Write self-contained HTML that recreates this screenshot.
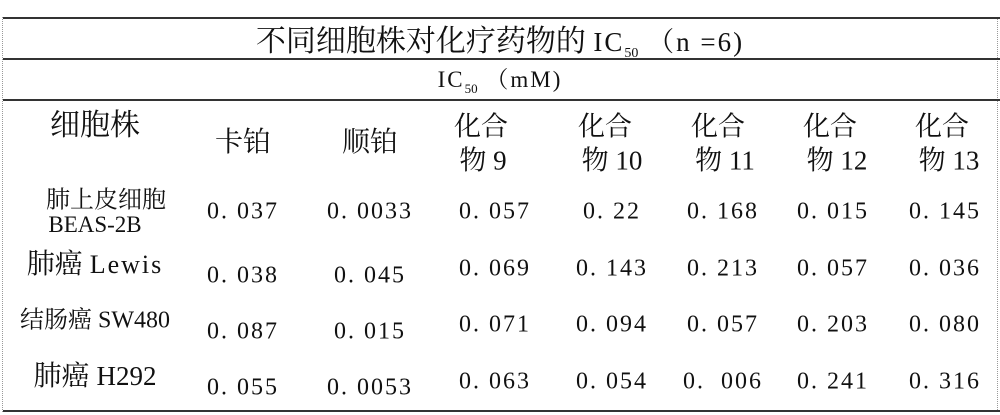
<!DOCTYPE html>
<html><head><meta charset="utf-8"><style>
body{margin:0;background:#fff;}
#c{position:relative;width:1000px;height:415px;overflow:hidden;font-family:"Liberation Serif","Noto Serif CJK SC",serif;color:#111;}
.t{position:absolute;white-space:nowrap;transform:translate(-50%,-50%);}
.h{position:absolute;left:3px;width:997px;height:2px;background:#333;}
.n{font-size:24px;letter-spacing:2px;}
.z{font-size:27px;}
</style></head><body><div id="c">
<div style="position:absolute;left:2px;top:17px;height:395px;border-left:1px dotted #999"></div>
<div style="position:absolute;left:997px;top:17px;height:395px;border-left:1px dotted #999"></div>
<div class="h" style="top:17px"></div>
<div class="h" style="top:58px"></div>
<div class="h" style="top:99px"></div>
<div class="h" style="top:410px"></div>
<div class="t" style="left:500px;top:39px;font-size:30px">不同细胞株对化疗药物的 <span style="font-size:27px;letter-spacing:2px">IC<sub style="font-size:14px;letter-spacing:0">50</sub> （n =6)</span></div>
<div class="t" style="left:500px;top:79px;font-size:23px;letter-spacing:2px">IC<sub style="font-size:13px;letter-spacing:0">50</sub> （mM)</div>
<div class="t" style="left:95px;top:122px;font-size:30px">细胞株</div>
<div class="t" style="left:243px;top:140px;font-size:28px">卡铂</div>
<div class="t" style="left:370px;top:140px;font-size:28px">顺铂</div>
<div class="t z" style="left:481px;top:124px">化合</div><div class="t z" style="left:483px;top:158px">物 9</div>
<div class="t z" style="left:605px;top:124px">化合</div><div class="t z" style="left:612px;top:158px">物 10</div>
<div class="t z" style="left:718px;top:124px">化合</div><div class="t z" style="left:725px;top:158px">物 11</div>
<div class="t z" style="left:830px;top:124px">化合</div><div class="t z" style="left:837px;top:158px">物 12</div>
<div class="t z" style="left:942px;top:124px">化合</div><div class="t z" style="left:949px;top:158px">物 13</div>
<div class="t" style="left:106px;top:197px;font-size:24px">肺上皮细胞</div>
<div class="t" style="left:95px;top:225px;font-size:23px">BEAS-2B</div>
<div class="t" style="left:95px;top:262px;font-size:28px">肺癌 <span style="font-size:26px;letter-spacing:2px">Lewis</span></div>
<div class="t" style="left:95px;top:317px;font-size:24px">结肠癌 SW480</div>
<div class="t" style="left:95px;top:374px;font-size:28px">肺癌 <span style="font-size:27px">H292</span></div>
<div class="t n" style="left:243px;top:212px">0. 037</div><div class="t n" style="left:370px;top:212px">0. 0033</div><div class="t n" style="left:495px;top:212px">0. 057</div><div class="t n" style="left:612px;top:212px">0. 22</div><div class="t n" style="left:723px;top:212px">0. 168</div><div class="t n" style="left:833px;top:212px">0. 015</div><div class="t n" style="left:945px;top:212px">0. 145</div>
<div class="t n" style="left:243px;top:276px">0. 038</div><div class="t n" style="left:370px;top:276px">0. 045</div><div class="t n" style="left:495px;top:269px">0. 069</div><div class="t n" style="left:612px;top:269px">0. 143</div><div class="t n" style="left:723px;top:269px">0. 213</div><div class="t n" style="left:833px;top:269px">0. 057</div><div class="t n" style="left:945px;top:269px">0. 036</div>
<div class="t n" style="left:243px;top:332px">0. 087</div><div class="t n" style="left:370px;top:332px">0. 015</div><div class="t n" style="left:495px;top:325px">0. 071</div><div class="t n" style="left:612px;top:325px">0. 094</div><div class="t n" style="left:723px;top:325px">0. 057</div><div class="t n" style="left:833px;top:325px">0. 203</div><div class="t n" style="left:945px;top:325px">0. 080</div>
<div class="t n" style="left:243px;top:388px">0. 055</div><div class="t n" style="left:370px;top:388px">0. 0053</div><div class="t n" style="left:495px;top:382px">0. 063</div><div class="t n" style="left:612px;top:382px">0. 054</div><div class="t n" style="left:723px;top:382px">0.&nbsp; 006</div><div class="t n" style="left:833px;top:382px">0. 241</div><div class="t n" style="left:945px;top:382px">0. 316</div>
</div></body></html>
